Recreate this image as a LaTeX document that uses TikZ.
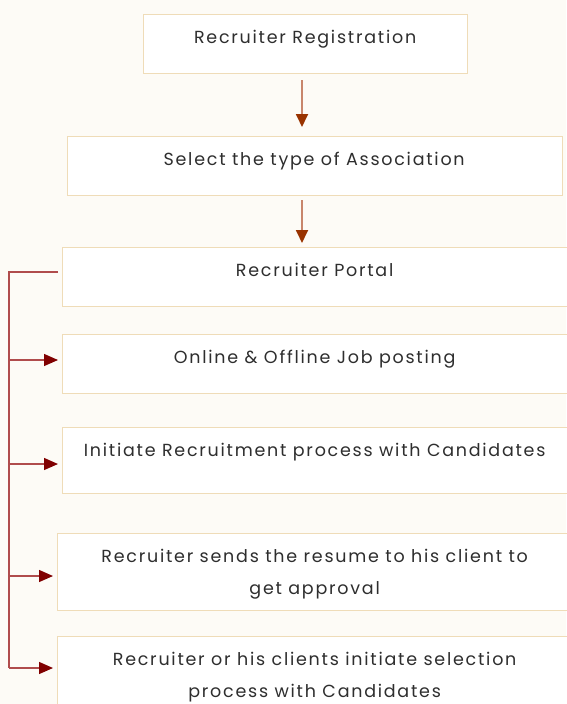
\documentclass[tikz,border=0pt]{standalone}
\usepackage{fontspec}
\setmainfont{Poppins}[LetterSpace=10]
\usetikzlibrary{arrows.meta,calc}
\definecolor{bg}{HTML}{FDFBF6}
\definecolor{boxline}{HTML}{EFDCB8}
\definecolor{txtc}{HTML}{2E2E2E}
\definecolor{downline}{HTML}{C8866C}
\definecolor{downhead}{HTML}{993300}
\definecolor{busline}{HTML}{B04C4C}
\definecolor{bushead}{HTML}{800000}
\tikzset{
  x=1pt,y=-1pt,
  stepbox/.style={draw=boxline,line width=1.3pt,fill=white,inner sep=0,anchor=north west},
  txt/.style={text=txtc,font=\fontsize{17.5}{32}\selectfont,align=center,anchor=base,inner sep=0},
  downarr/.style={draw=downline,line width=1.8pt,-{Triangle[width=12pt,length=13pt,color=downhead]}},
  bus/.style={draw=busline,line width=1.3pt},
  busarr/.style={draw=busline,line width=1.3pt,-{Triangle[width=12pt,length=14pt,color=bushead]}}
}
\begin{document}
\begin{tikzpicture}
\fill[bg] (0,0) rectangle (566,704);
\useasboundingbox (0,0) rectangle (566,704);
\node[stepbox,minimum width=324pt,minimum height=59pt] (b1) at (143,14) {};
\node[stepbox,minimum width=495pt,minimum height=59pt] (b2) at (67,136) {};
\node[stepbox,minimum width=506pt,minimum height=59pt] (b3) at (62,247) {};
\node[stepbox,minimum width=506pt,minimum height=59pt] (b4) at (62,334) {};
\node[stepbox,minimum width=506pt,minimum height=66pt] (b5) at (62,427) {};
\node[stepbox,minimum width=511pt,minimum height=77pt] (b6) at (57,533) {};
\node[stepbox,minimum width=511pt,minimum height=80pt] (b7) at (57,636) {};
\node[txt] (t1) at ($(b1.north)+(-0.5,29)$) {Recruiter Registration};
\node[txt] (t2) at ($(b2.north)+(-1,29)$) {Select the type of Association};
\node[txt] (t3) at ($(b3.north)+(-1,29)$) {Recruiter Portal};
\node[txt] (t4) at ($(b4.north)+(-1,29)$) {Online \& Offline Job posting};
\node[txt] (t5) at ($(b5.north)+(-1,29)$) {Initiate Recruitment process with Candidates};
\node[txt] (t6) at ($(b6.north)+(1.5,61)$) {Recruiter sends the resume to his client to\\get approval};
\node[txt] (t7) at ($(b7.north)+(1.5,61)$) {Recruiter or his clients initiate selection\\process with Candidates};
\coordinate (a1s) at (302,80);
\coordinate (a2s) at (302,200);
\draw[downarr] (a1s) -- (a1s |- {(0,127)});
\draw[downarr] (a2s) -- (a2s |- {(0,243)});
\coordinate (busTop) at (9,272);
\coordinate (busBot) at (9,668);
\coordinate (e3) at (58,272);
\coordinate (s4) at (9,360);
\coordinate (e4) at (58,360);
\coordinate (s5) at (9,464);
\coordinate (e5) at (58,464);
\coordinate (s6) at (9,576);
\coordinate (e6) at (53,576);
\coordinate (e7) at (53,668);
\draw[bus] (e3) -- (busTop) -- (busBot);
\draw[busarr] (s4) -- (e4);
\draw[busarr] (s5) -- (e5);
\draw[busarr] (s6) -- (e6);
\draw[busarr] (busBot) -- (e7);
\end{tikzpicture}
\end{document}
